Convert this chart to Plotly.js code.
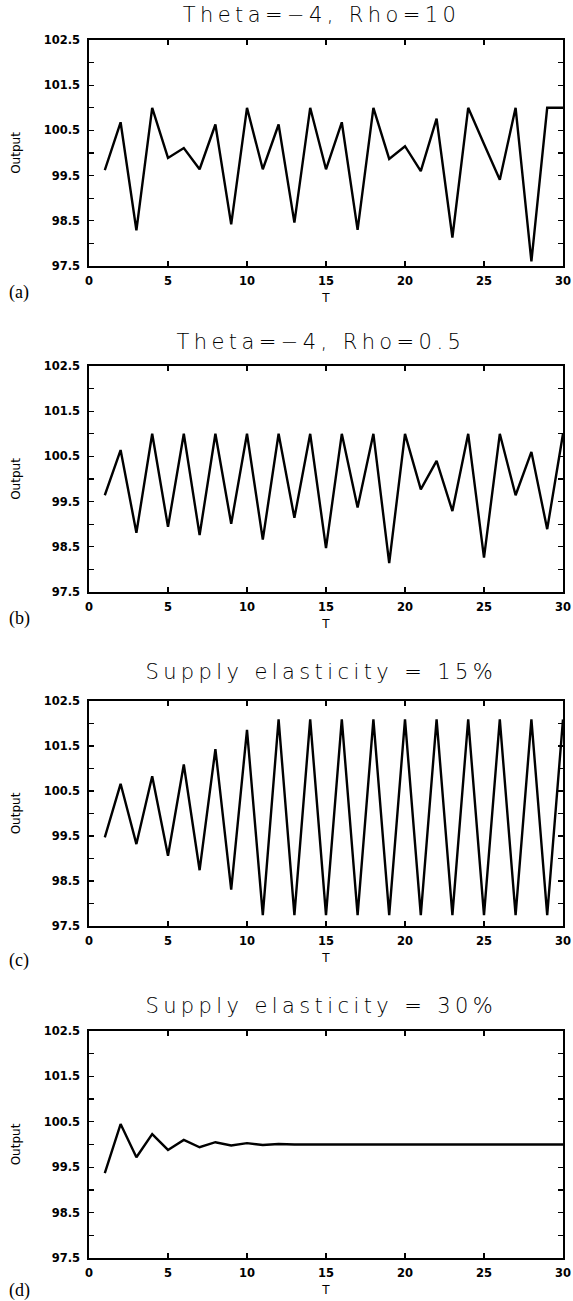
<!DOCTYPE html>
<html><head><meta charset="utf-8">
<script src="https://cdn.plot.ly/plotly-3.0.1.min.js"></script>
<style>html,body{margin:0;padding:0;background:#fff}
.xtick text, .ytick text {font-weight:700 !important;}
</style>
</head><body>
<div id="chart" style="width:573px;height:1301px"></div>
<script>
const periods = [1,2,3,4,5,6,7,8,9,10,11,12,13,14,15,16,17,18,19,20,21,22,23,24,25,26,27,28,29,30];
const outputA = [99.62,100.68,98.29,101.0,99.89,100.11,99.64,100.63,98.42,101.0,99.64,100.63,98.46,101.0,99.64,100.68,98.30,101.0,99.87,100.15,99.60,100.76,98.13,101.0,100.2,99.41,101.0,97.6,101.0,101.0];
const outputB = [99.64,100.64,98.81,101.0,98.94,101.0,98.76,101.0,99.01,101.0,98.66,101.0,99.14,101.0,98.47,101.0,99.37,101.0,98.14,101.0,99.77,100.40,99.29,101.0,98.26,101.0,99.64,100.60,98.89,101.0];
const outputC = [99.47,100.66,99.32,100.83,99.06,101.09,98.74,101.43,98.31,101.86,97.74,102.09,97.74,102.09,97.74,102.09,97.74,102.09,97.74,102.09,97.74,102.09,97.74,102.09,97.74,102.09,97.74,102.09,97.74,102.09];
const outputD = [99.37,100.45,99.72,100.23,99.88,100.10,99.94,100.05,99.98,100.03,99.99,100.01,100.0,100.0,100.0,100.0,100.0,100.0,100.0,100.0,100.0,100.0,100.0,100.0,100.0,100.0,100.0,100.0,100.0,100.0];
const panelTitles = ["Theta=\u22124, Rho=10","Theta=\u22124, Rho=0.5","Supply elasticity = 15%","Supply elasticity = 30%"];
const panelLabels = ["(a)","(b)","(c)","(d)"];
const yTickVals = [97.5,98,98.5,99,99.5,100,100.5,101,101.5,102,102.5];
const yTickText = ["97.5","","98.5","","99.5","","100.5","","101.5","","102.5"];
const xTickVals = [0,5,10,15,20,25,30];
const xTickText = ["0","5","10","15","20","25","30"];
const series = [outputA, outputB, outputC, outputD];

const H = 1301, W = 573, L = 89, R = 10;
const plotW = W - L - R;
// pixel geometry of each panel: [top, bottom, titleY, labelY]
const geo = [[40,266,15,293],[366,592,342,619],[701,926,672,960],[1031,1258,1006,1290]];
const py = p => 1 - p / H;
const px = p => (p - L) / plotW;

const tickFont = {family:"'DejaVu Sans', Verdana, sans-serif", size:11.5, color:'#000', weight:700};
const lblFont = {family:"'DejaVu Sans', sans-serif", size:12, color:'#000'};

const data = [];
const layout = {
  width: W, height: H, showlegend:false,
  margin:{l:L, r:R, t:0, b:0},
  paper_bgcolor:'#fff', plot_bgcolor:'#fff',
  annotations: []
};
series.forEach((ys,i)=>{
  const sfx = i===0 ? '' : String(i+1);
  data.push({x:periods, y:ys, type:'scatter', mode:'lines', line:{color:'#000', width:2.4},
             xaxis:'x'+sfx, yaxis:'y'+sfx, hoverinfo:'skip'});
  const g = geo[i];
  layout['xaxis'+sfx] = {
    domain:[0,1], anchor:'y'+sfx, range:[0,30], tickmode:'array', tickvals:xTickVals, ticktext:xTickText,
    ticks:'inside', ticklen:5, tickwidth:1.2, tickcolor:'#000', showline:true, linecolor:'#000', linewidth:1.6,
    mirror:'ticks', showgrid:false, zeroline:false, tickfont:tickFont, ticklabelstandoff:4,
    title:{text:'T', font:lblFont, standoff:6}
  };
  layout['yaxis'+sfx] = {
    domain:[py(g[1]), py(g[0])], anchor:'x'+sfx, range:[97.5,102.5], tickmode:'array', tickvals:yTickVals, ticktext:yTickText,
    ticks:'inside', ticklen:5, tickwidth:1.2, tickcolor:'#000', showline:true, linecolor:'#000', linewidth:1.6,
    mirror:'ticks', showgrid:false, zeroline:false, tickfont:tickFont, ticklabelstandoff:5,
    title:{text:'Output', font:lblFont, standoff:20}
  };
  layout.annotations.push({text:panelTitles[i], xref:'paper', yref:'paper', x:px(321), y:py(g[2]),
    xanchor:'center', yanchor:'middle', showarrow:false,
    font:{family:"'DejaVu Sans ExtraLight', 'DejaVu Sans', sans-serif", size:21, color:'#000', weight:200}});
  layout.annotations.push({text:panelLabels[i], xref:'paper', yref:'paper', x:px(7), y:py(g[3]),
    xanchor:'left', yanchor:'middle', showarrow:false,
    font:{family:"'Liberation Serif', 'Times New Roman', serif", size:18, color:'#000'}});
});

Plotly.newPlot('chart', data, layout, {staticPlot:true}).then(()=>{
  document.querySelectorAll('.annotation-text').forEach(el=>{
    if (panelTitles.includes(el.textContent)) el.style.letterSpacing = '4.4px';
  });
});
</script>
</body></html>
